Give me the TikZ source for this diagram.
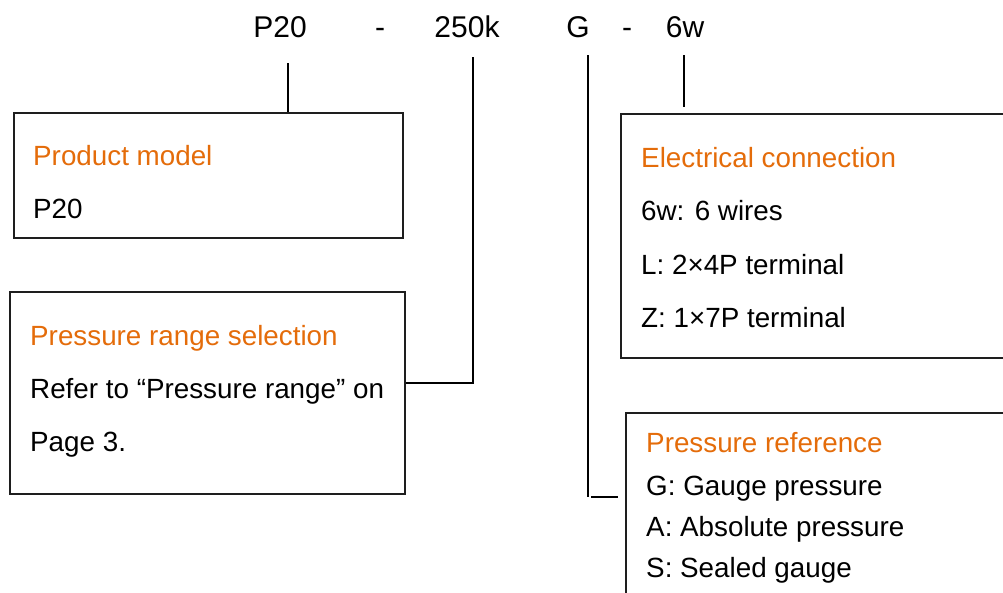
\documentclass[tikz,border=0pt]{standalone}
\usepackage{fontspec}
\setmainfont{Liberation Sans}
\definecolor{hdorange}{RGB}{228,108,10}
\definecolor{boxline}{RGB}{30,30,30}
\begin{document}
\begin{tikzpicture}[x=1pt,y=1pt,
  boxnode/.style={draw=boxline,line width=1.5pt,inner sep=0pt,anchor=north west,rectangle},
  codetxt/.style={anchor=base,inner sep=0pt,font=\fontsize{30}{36}\selectfont},
  headtxt/.style={anchor=base west,inner sep=0pt,text=hdorange,font=\fontsize{27.8}{33}\selectfont},
  bodytxt/.style={anchor=base west,inner sep=0pt,text=black,font=\fontsize{27.8}{33}\selectfont},
  conn/.style={draw=black,line width=2pt}]
\useasboundingbox (0,0) rectangle (1003,-592);
\clip (0,0) rectangle (1003,-592);
% top code
\node[codetxt] (tp20) at (280,-37) {P20};
\node[codetxt] (td1) at (380,-37) {-};
\node[codetxt] (t250) at (467,-37) {250k};
\node[codetxt] (tg) at (578,-37) {G};
\node[codetxt] (td2) at (627,-37) {-};
\node[codetxt] (t6w) at (685,-37) {6w};
% boxes
\node[boxnode,minimum width=389pt,minimum height=125pt] (box1) at (13,-112) {};
\node[boxnode,minimum width=395pt,minimum height=202pt] (box2) at (9,-291) {};
\node[boxnode,minimum width=400pt,minimum height=244pt] (box3) at (620,-113) {};
\node[boxnode,minimum width=400pt,minimum height=200pt] (box4) at (625,-412) {};
% box texts
\node[headtxt] (h1) at (33,-165) {Product model};
\node[bodytxt] (b11) at (33,-218) {P20};
\node[headtxt] (h2) at (30,-345) {Pressure range selection};
\node[bodytxt] (b21) at (30,-398) {Refer to “Pressure range” on};
\node[bodytxt] (b22) at (30,-451) {Page 3.};
\node[headtxt] (h3) at (641,-167) {Electrical connection};
\node[bodytxt] (b31) at (641,-220) {6w: 6 wires};
\node[bodytxt] (b32) at (641,-274) {L: 2×4P terminal};
\node[bodytxt] (b33) at (641,-327) {Z: 1×7P terminal};
\node[headtxt] (h4) at (646,-452) {Pressure reference};
\node[bodytxt] (b41) at (646,-495) {G: Gauge pressure};
\node[bodytxt] (b42) at (646,-536) {A: Absolute pressure};
\node[bodytxt] (b43) at (646,-577) {S: Sealed gauge};
% connectors
\coordinate (c1) at (288,-63);
\draw[conn] (c1) -- (c1 |- box1.north);
\coordinate (c2) at (473,-57);
\coordinate (c2b) at (473,-383);
\draw[conn] (c2) -- (c2b) -- (c2b -| box2.east);
\coordinate (c3) at (588,-55);
\coordinate (c3b) at (588,-497);
\coordinate (c3c) at (591,-497);
\draw[conn] (c3) -- (c3b);
\draw[conn,shorten >=7pt] (c3c) -- (c3c -| box4.west);
\coordinate (c4) at (684,-55);
\draw[conn] (c4) -- (c4 |- 0,-107);
\end{tikzpicture}
\end{document}
